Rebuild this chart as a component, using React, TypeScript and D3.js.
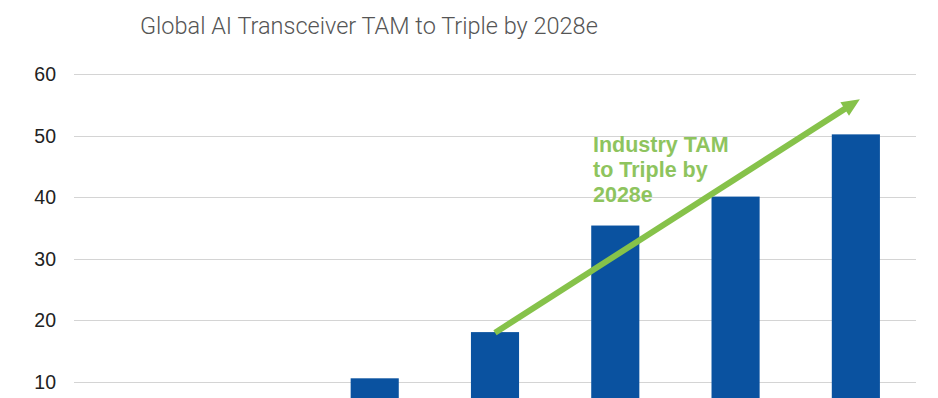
import { useRef, useEffect } from 'react'
import * as d3 from 'd3'

const years = ['2022', '2023', '2024', '2025e', '2026e', '2027e', '2028e']
const tam = [3.5, 6.5, 10.6, 18.1, 35.4, 40.1, 50.2]
const yTicks = [0, 10, 20, 30, 40, 50, 60]
const noteLines = ['Industry TAM', 'to Triple by', '2028e']
// arrow runs from the 2025e bar top up past the last bar
const arrowFrom = { year: '2025e', value: 18.0 }
const arrowTo = { year: '2028e', value: 55.9 }

const W = 938
const H = 398

export default function App() {
  const svgRef = useRef<SVGSVGElement>(null)

  useEffect(() => {
    if (!svgRef.current) return
    const svg = d3.select(svgRef.current)
    svg.selectAll('*').remove()

    const x = d3.scaleBand().domain(years).range([74, 916]).paddingInner(0.6).paddingOuter(0.3)
    const y = d3.scaleLinear().domain([0, 60]).range([443.6, 74])

    svg.append('rect').attr('width', W).attr('height', H).attr('fill', '#fff')

    // title
    svg.append('text')
      .attr('x', 140)
      .attr('y', 34)
      .attr('font-family', 'Roboto, sans-serif')
      .attr('font-weight', 300)
      .attr('font-size', 23.5)
      .attr('fill', '#555')
      .text('Global AI Transceiver TAM to Triple by 2028e')

    // grid + y labels
    const grid = svg.append('g')
    grid.selectAll('line')
      .data(yTicks.filter((d) => d > 0))
      .join('line')
      .attr('x1', 74)
      .attr('x2', 916)
      .attr('y1', (d) => Math.round(y(d)) + 0.5)
      .attr('y2', (d) => Math.round(y(d)) + 0.5)
      .attr('stroke', '#d4d4d4')
      .attr('stroke-width', 1)

    grid.selectAll('text')
      .data(yTicks.filter((d) => d > 0))
      .join('text')
      .attr('x', 56)
      .attr('y', (d) => y(d))
      .attr('dy', '0.36em')
      .attr('text-anchor', 'end')
      .attr('font-family', 'Liberation Sans, Arial, sans-serif')
      .attr('font-size', 19.5)
      .attr('fill', '#222')
      .text((d) => d)

    // bars
    svg.append('g')
      .selectAll('rect')
      .data(tam)
      .join('rect')
      .attr('x', (d, i) => x(years[i])!)
      .attr('width', x.bandwidth())
      .attr('y', (d) => y(d))
      .attr('height', (d) => y(0) - y(d))
      .attr('fill', '#0A52A0')

    // arrow
    const green = '#86C24A'
    const x0 = x(arrowFrom.year)! + x.bandwidth() / 2
    const y0 = y(arrowFrom.value)
    const x1 = x(arrowTo.year)! + x.bandwidth() / 2 + 4
    const y1 = y(arrowTo.value)
    const ang = Math.atan2(y1 - y0, x1 - x0)
    const headLen = 18
    const headW = 8
    const bx = x1 - headLen * Math.cos(ang)
    const by = y1 - headLen * Math.sin(ang)
    svg.append('line')
      .attr('x1', x0)
      .attr('y1', y0)
      .attr('x2', bx + 2 * Math.cos(ang))
      .attr('y2', by + 2 * Math.sin(ang))
      .attr('stroke', green)
      .attr('stroke-width', 6)
    const px = -Math.sin(ang)
    const py = Math.cos(ang)
    svg.append('path')
      .attr('d', d3.line()([
        [x1, y1],
        [bx + px * headW, by + py * headW],
        [bx - px * headW, by - py * headW],
      ]) + 'Z')
      .attr('fill', green)

    // note
    svg.append('text')
      .attr('font-family', 'Liberation Sans, Arial, sans-serif')
      .attr('font-weight', 700)
      .attr('font-size', 21.5)
      .attr('fill', '#8EC45E')
      .selectAll('tspan')
      .data(noteLines)
      .join('tspan')
      .attr('x', 593)
      .attr('y', (d, i) => 152 + i * 25)
      .text((d) => d)
  }, [])

  return (
    <svg ref={svgRef} width={W} height={H} style={{ position: 'absolute', left: 0, top: 0 }} />
  )
}
